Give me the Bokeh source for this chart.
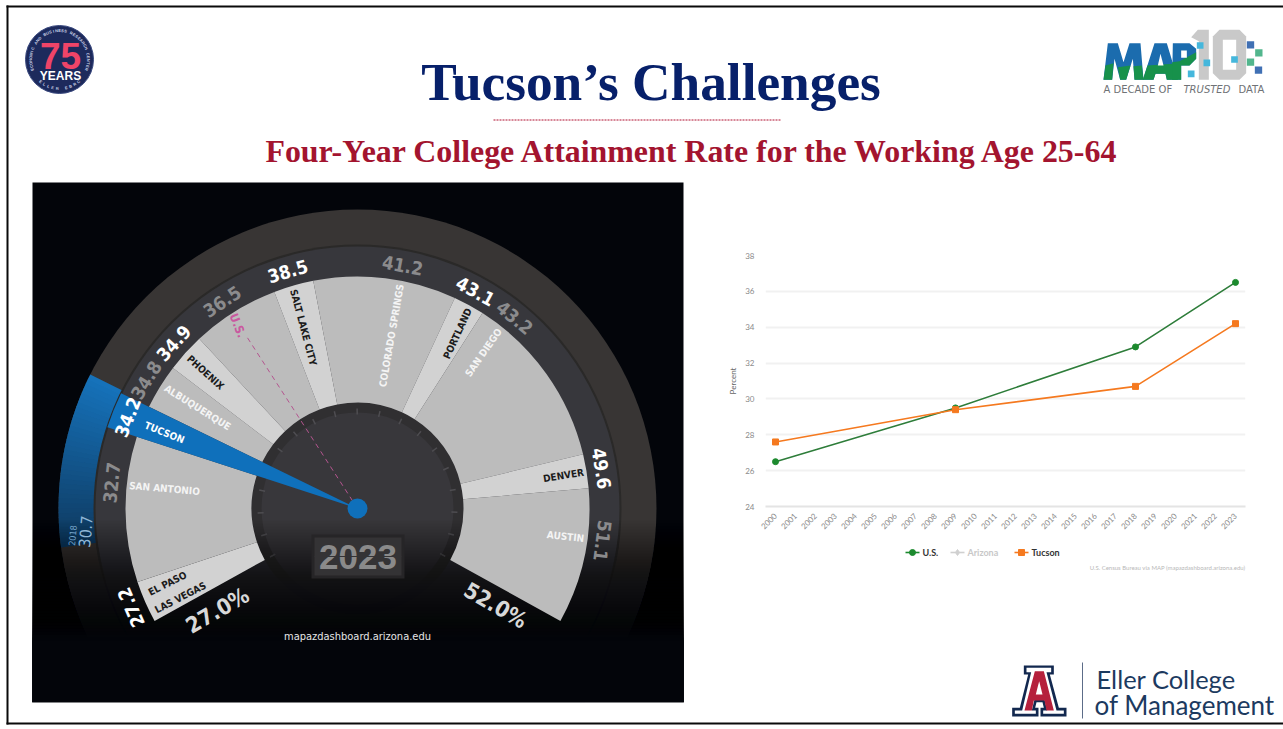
import math
import numpy as np
from bokeh.plotting import figure
from bokeh.models import Range1d, FixedTicker
from bokeh.core.properties import value
from bokeh.embed import file_html
from bokeh.resources import INLINE

# ---------- data: line chart ----------
YEARS = list(range(2000, 2024))
OBS_YEARS = [2000, 2009, 2018, 2023]
US = [26.5, 29.5, 32.9, 36.5]
TUCSON = [27.6, 29.4, 30.7, 34.2]
Y_TICKS = [24, 26, 28, 30, 32, 34, 36, 38]

# ---------- data: gauge ----------
PLACES = ["EL PASO", "LAS VEGAS", "SAN ANTONIO", "TUCSON", "ALBUQUERQUE", "PHOENIX", "SALT LAKE CITY",
          "COLORADO SPRINGS", "PORTLAND", "SAN DIEGO", "DENVER", "AUSTIN"]
RATES = [27.2, 32.7, 34.2, 34.8, 34.9, 36.5, 38.5, 41.2, 43.1, 43.2, 49.6, 51.1]
RATE_EMPHASIS = [1, 0, 1, 0, 1, 0, 1, 0, 1, 0, 1, 0]
US_RATE = 36.5
TUCSON_2018 = 30.7
GAUGE_MIN = "27.0%"
GAUGE_MAX = "52.0%"
GAUGE_YEAR = "2023"

# ---------- layout of the gauge (degrees clockwise from due left) ----------
CX, CY = 357, 508
R_OUT, R_SEP, R_VAL, R_HUB, R_HUB_IN = 299, 263, 232, 106, 96
BAND_EDGES = [-29, -18.5, 18, 26, 37.3, 47, 69, 79, 114.8, 122.6, 166.5, 175, 209]
BAND_COLORS = ["#d2d2d2", "#bcbcbc", None, "#bcbcbc", "#d2d2d2", "#bcbcbc", "#d2d2d2", "#bcbcbc",
               "#d2d2d2", "#bcbcbc", "#d2d2d2", "#bcbcbc"]
RATE_DEG = [-23.6, 6, 21.7, 31.3, 42, 56.8, 73.6, 100.5, 118.5, 129.5, 170.7, 187.5]
NARROW = value("DejaVu Sans Condensed")
SERIF = value("Liberation Serif")
SANS = value("Liberation Sans")

W, H = 1283, 729
p = figure(width=W, height=H, x_range=Range1d(0, W), y_range=Range1d(0, H), x_axis_type=None, y_axis_type=None,
           toolbar_location=None, output_backend="svg", min_border=0, outline_line_color=None,
           background_fill_color="white", border_fill_color="white",
           styles={"position": "absolute", "left": "0px", "top": "0px"})
p.grid.visible = False


def Y(py):
    return H - py


def rad(theta):
    return math.radians(180 - theta)


def polar(r, theta):
    return CX + r * math.cos(rad(theta)), Y(CY) + r * math.sin(rad(theta))


def text(x, py, s, size, color, font=NARROW, style="bold", deg=0, align="center", baseline="middle", alpha=1):
    p.text(x=[x], y=[Y(py)], text=[s], angle=[math.radians(deg)], text_font=font, text_font_style=style,
           text_font_size=f"{size}px", text_color=color, text_align=align, text_baseline=baseline, text_alpha=alpha)


def wedge(r0, r1, t0, t1, color):
    p.annular_wedge(x=[CX], y=[Y(CY)], inner_radius=r0, outer_radius=r1, start_angle=rad(t1), end_angle=rad(t0),
                    fill_color=color, line_color=None)


def disc(r, color):
    p.circle(x=[CX], y=[Y(CY)], radius=r, fill_color=color, line_color=None)


def rect(x0, x1, py0, py1, color, alpha=1.0):
    p.quad(left=[x0], right=[x1], top=[Y(py0)], bottom=[Y(py1)], fill_color=color, fill_alpha=alpha, line_color=None)


def poly(pts, color, ox=0.0, oy=0.0, k=1.0):
    p.patch(x=[ox + a * k for a, _ in pts], y=[Y(oy + b * k) for _, b in pts], fill_color=color, line_color=None)


# ---------- titles ----------
text(650.5, 82, "Tucson\u2019s Challenges", 53.3, "#07206a", SERIF)
p.line(x=[493, 780], y=[Y(119.5), Y(119.5)], line_color="#b01030", line_width=1, line_dash="2 1")
text(693, 151, "Four-Year College Attainment Rate for the Working Age 25-64", 31.9, "#a3142f", SERIF)

# ---------- gauge panel ----------
rect(32, 683, 182, 702, "#03050a")
disc(R_OUT, "#383534")
# blue history arc, 2018 to 2023
n = 36
for i in range(n):
    f = i / (n - 1)
    col = "#%02x%02x%02x" % (int(15 + f * 7), int(58 + f * 56), int(96 + f * 90))
    t0 = -7.5 + (26.5 + 7.5) * i / n
    wedge(R_SEP, R_OUT, t0, t0 + 34.0 / n + 0.15, col)
disc(R_SEP + 1, "#2a2928")
disc(R_SEP - 1, "#37373c")
disc(R_HUB, "#302f31")
disc(R_HUB_IN, "#38373b")
tick_deg = np.arange(-29, 210, 13.2)
p.segment(x0=[polar(R_HUB_IN - 2, t)[0] for t in tick_deg], y0=[polar(R_HUB_IN - 2, t)[1] for t in tick_deg],
          x1=[polar(R_HUB_IN + 4, t)[0] for t in tick_deg], y1=[polar(R_HUB_IN + 4, t)[1] for t in tick_deg],
          line_color="#4e4d51", line_width=1.5)
# bottom fade to black (stacked translucent layers, so no seams)
steps = 40
prev = 1.0
for i in range(1, steps + 1):
    cur = max(1 - (i / steps) ** 0.9, 0.004)
    rect(32, 683, 520 + (i - 1) * 3, 702, "#03050a", 1 - cur / prev)
    prev = cur
rect(32, 683, 520 + steps * 3, 702, "#03050a")
# clip whatever of the rings runs below the panel
rect(0, 1283, 702, 729, "#ffffff")

# ---------- slide frame ----------
rect(6, 1283, 5, 7, "#0a0a0a")
rect(6, 8, 5, 724, "#0a0a0a")
rect(6, 1283, 722, 724, "#0a0a0a")

# light sector bands
for i, col in enumerate(BAND_COLORS):
    if col:
        wedge(R_HUB, R_VAL, BAND_EDGES[i], BAND_EDGES[i + 1], col)
# Tucson needle
wedge(0, R_SEP, BAND_EDGES[2], BAND_EDGES[3], "#0f70bb")
# U.S. dashed line
ux, uy = polar(203, 57.2)
p.line(x=[CX, ux], y=[Y(CY), uy], line_color="#b4558f", line_width=1, line_dash="5 4")
disc(10, "#0f70bb")

# flip clock
rect(311, 404, 534, 578, "#262527")
rect(314, 401, 537, 575, "#343335")
text(357.5, 556, GAUGE_YEAR, 35, "#8a8a8a", SANS)
p.line(x=[314, 401], y=[Y(556), Y(556)], line_color="#343335", line_width=1)

# values on ring
for v, d, e in zip(RATES, RATE_DEG, RATE_EMPHASIS):
    x, y = polar(247, d)
    text(x, H - y, f"{v}", 18.5, "#ffffff" if e else "#8b8b8d", deg=90 - d)
text(72, 535, "2018", 9, "#6f9fc6", deg=85, style="normal")
text(85, 531, f"{TUCSON_2018}", 16, "#8fb6d6", deg=85, style="normal")
text(237, 325, "U.S.", 12, "#c9589f", deg=-68)

# place names
NAME_X = [167, 180, 164, 164, 197, 205, 303, 391, 457, 483, 563, 565]
NAME_Y = [583, 597, 488, 432, 407, 372, 327, 335, 333, 352, 475, 536]
NAME_DEG = [27, 27, -5, -22, -32, -42, -75, 80, 65, 55, 9, -6]
NAME_COL = ["#1b1b1b", "#1b1b1b", "#f4f4f4", "#ffffff", "#f4f4f4", "#1b1b1b", "#1b1b1b", "#f4f4f4", "#1b1b1b",
            "#f4f4f4", "#1b1b1b", "#f4f4f4"]
for nm, x, y, d, col in zip(PLACES, NAME_X, NAME_Y, NAME_DEG, NAME_COL):
    text(x, y, nm, 10, col, deg=d)

text(217, 610, GAUGE_MIN, 22, "#d8d8d8", deg=30)
text(495, 605, GAUGE_MAX, 22, "#d8d8d8", deg=-30)
text(357, 636, "mapazdashboard.arizona.edu", 11, "#e6e6e6", style="normal")

# legend and source line of the chart
LEG = value("Lato")
for lx, mk, label, col, tcol in [(912, "circle", "U.S.", "#1c8a2e", "#333333"),
                                 (957, "diamond", "Arizona", "#d0d0d0", "#c8c8c8"),
                                 (1021, "square", "Tucson", "#f5791f", "#333333")]:
    p.line(x=[lx - 7, lx + 7], y=[Y(552), Y(552)], line_color=col, line_width=1.6)
    p.scatter(x=[lx], y=[Y(552)], marker=mk, size=6, fill_color=col, line_color=col)
    text(lx + 10, 552, label, 9, tcol, LEG, "bold", align="left")
text(1245, 567, "U.S. Census Bureau via MAP (mapazdashboard.arizona.edu)", 6, "#b8b8b8", LEG, "normal", align="right")

# ---------- 75 years badge ----------
p.circle(x=[59], y=[Y(59)], radius=34, fill_color="#1d2a5c", line_color="#3b4a80", line_width=1)
text(60, 55, "75", 37, "#ef4468", SANS)
text(60, 75, "YEARS", 12, "#ffffff", SANS)
ring = "ECONOMIC AND BUSINESS RESEARCH CENTER"
for i, ch in enumerate(ring):
    a = math.radians(200 - i * 220 / (len(ring) - 1))
    text(59 + 29 * math.cos(a), 59 - 29 * math.sin(a), ch, 4, "#cfd6ea", SANS, deg=math.degrees(a) - 90)
ring2 = "ELLER EBRC"
for i, ch in enumerate(ring2):
    a = math.radians(-90 + (i - 4.5) * 9)
    text(59 + 29 * math.cos(a), 59 - 29 * math.sin(a), ch, 4, "#cfd6ea", SANS, deg=math.degrees(a) + 90)

# ---------- MAP 10 logo ----------
BL, GR, GY, OX, OY = "#1b6cae", "#17914b", "#c9c9c9", 1079, 20
k = 1 / 3
poly([(85, 68), (115, 68), (132, 125), (150, 68), (183, 68), (192, 178), (165, 178), (160, 115), (140, 178),
      (122, 178), (105, 115), (98, 178), (72, 178)], BL, OX, OY, k)
poly([(225, 68), (262, 68), (295, 178), (262, 178), (258, 160), (228, 160), (222, 178), (190, 178)], BL, OX, OY, k)
poly([(280, 68), (330, 68), (350, 85), (350, 115), (330, 135), (305, 135), (305, 178), (278, 178)], BL, OX, OY, k)
poly([(72, 178), (98, 178), (102, 128), (78, 135)], GR, OX, OY, k)
poly([(122, 178), (140, 178), (153, 135), (115, 140)], GR, OX, OY, k)
poly([(165, 178), (192, 178), (187, 135), (162, 137)], GR, OX, OY, k)
poly([(190, 178), (222, 178), (228, 160), (258, 160), (262, 178), (295, 178), (280, 130), (204, 135)], GR, OX, OY, k)
poly([(278, 178), (305, 178), (305, 135), (330, 135), (350, 115), (350, 95), (300, 122), (278, 125)], GR, OX, OY, k)
poly([(235, 135), (252, 135), (243, 100)], "#ffffff", OX, OY, k)
poly([(305, 90), (322, 90), (322, 112), (305, 112)], "#ffffff", OX, OY, k)
poly([(335, 50), (355, 28), (388, 28), (388, 178), (358, 178), (358, 62)], GY, OX, OY, k)
poly([(420, 28), (480, 28), (500, 48), (500, 158), (480, 178), (420, 178), (400, 158), (400, 48)], GY, OX, OY, k)
poly([(430, 58), (470, 58), (470, 148), (430, 148)], "#ffffff", OX, OY, k)
for bx, by, col in [(362, 75, "#45b7dc"), (382, 127, "#45b7dc"), (335, 160, "#45b7dc"), (465, 117, "#45b7dc"),
                    (513, 73, "#4070b4"), (537, 149, "#4070b4"), (538, 97, "#52b68d"), (513, 125, "#52b68d")]:
    s = 10 if col == "#45b7dc" else 11
    rect(OX + (bx - s) * k, OX + (bx + s) * k, OY + (by - s) * k, OY + (by + s) * k, col)
TAG = value("DejaVu Sans")
text(1103, 89, "A DECADE OF", 10, "#6f7276", TAG, "normal", align="left")
text(1183, 89, "TRUSTED", 10, "#6f7276", TAG, "italic", align="left")
text(1238, 89, "DATA", 10, "#6f7276", TAG, "normal", align="left")

# ---------- Eller logo ----------
EX, EY = 990, 650
NAVY = "#12284f"
poly([(100, 45), (190, 45), (190, 72), (178, 72), (205, 172), (228, 172), (228, 198), (150, 198), (150, 172),
      (160, 172), (156, 155), (138, 155), (134, 172), (144, 172), (144, 198), (65, 198), (65, 172), (88, 172),
      (113, 72), (100, 72)], NAVY, EX, EY, k)
poly([(108, 52), (182, 52), (182, 65), (168, 65), (198, 180), (220, 180), (220, 190), (158, 190), (158, 180),
      (170, 180), (162, 147), (132, 147), (124, 180), (136, 180), (136, 190), (73, 190), (73, 180), (95, 180),
      (122, 65), (108, 65)], "#ffffff", EX, EY, k)
poly([(133, 62), (160, 62), (190, 180), (168, 180), (162, 150), (130, 150), (124, 180), (102, 180)], "#b5203c",
     EX, EY, k)
poly([(146, 92), (136, 132), (156, 132)], "#ffffff", EX, EY, k)
p.line(x=[1082, 1082], y=[Y(662), Y(718)], line_color="#5c6c88", line_width=1)
text(1096, 678, "Eller College", 25.5, "#1c3a5f", value("Lato"), "normal", align="left")
text(1094, 704, "of Management", 26, "#1c3a5f", value("Lato"), "normal", align="left")

# ---------- line chart, with its own scales and axes ----------
CHART_LEFT, CHART_TOP = 720, 245
c = figure(width=535, height=330, x_range=Range1d(1999.5, 2023.5), y_range=Range1d(24, 38), toolbar_location=None,
           output_backend="svg", outline_line_color=None, background_fill_alpha=0, border_fill_alpha=0,
           min_border_left=45, min_border_right=10, min_border_top=10, min_border_bottom=69,
           y_axis_label="Percent",
           styles={"position": "absolute", "left": f"{CHART_LEFT}px", "top": f"{CHART_TOP}px"})
c.xgrid.visible = False
c.ygrid.grid_line_color = "#f1f1f1"
c.ygrid.grid_line_width = 2
c.ygrid.ticker = FixedTicker(ticks=Y_TICKS)
c.yaxis.ticker = FixedTicker(ticks=Y_TICKS)
c.xaxis.ticker = FixedTicker(ticks=YEARS)
c.xaxis.major_label_orientation = math.pi / 4
c.xaxis.major_tick_line_color = None
c.yaxis.major_tick_line_color = None
c.xaxis.minor_tick_line_color = None
c.yaxis.minor_tick_line_color = None
c.yaxis.axis_line_color = None
c.xaxis.axis_line_color = "#e4e4e4"
c.xaxis.axis_line_width = 2
for ax in (c.xaxis, c.yaxis):
    ax.major_label_text_font = "Lato"
    ax.major_label_text_font_size = "8px"
    ax.major_label_text_color = "#8a8a8a"
c.xaxis.major_label_standoff = 2
c.yaxis.major_label_standoff = 5
c.yaxis.axis_label_text_font = "Lato"
c.yaxis.axis_label_text_font_size = "8px"
c.yaxis.axis_label_text_font_style = "normal"
c.yaxis.axis_label_text_color = "#666666"
c.yaxis.axis_label_standoff = 4

GREEN, ORANGE = "#1c8a2e", "#f5791f"
c.line(OBS_YEARS, US, line_color="#2e7d3a", line_width=1.6)
c.scatter(OBS_YEARS, US, marker="circle", size=6, fill_color=GREEN, line_color=GREEN)
c.line(OBS_YEARS, TUCSON, line_color=ORANGE, line_width=1.6)
c.scatter(OBS_YEARS, TUCSON, marker="square", size=6, fill_color=ORANGE, line_color=ORANGE)

open("out.html", "w").write(file_html([p, c], INLINE))
